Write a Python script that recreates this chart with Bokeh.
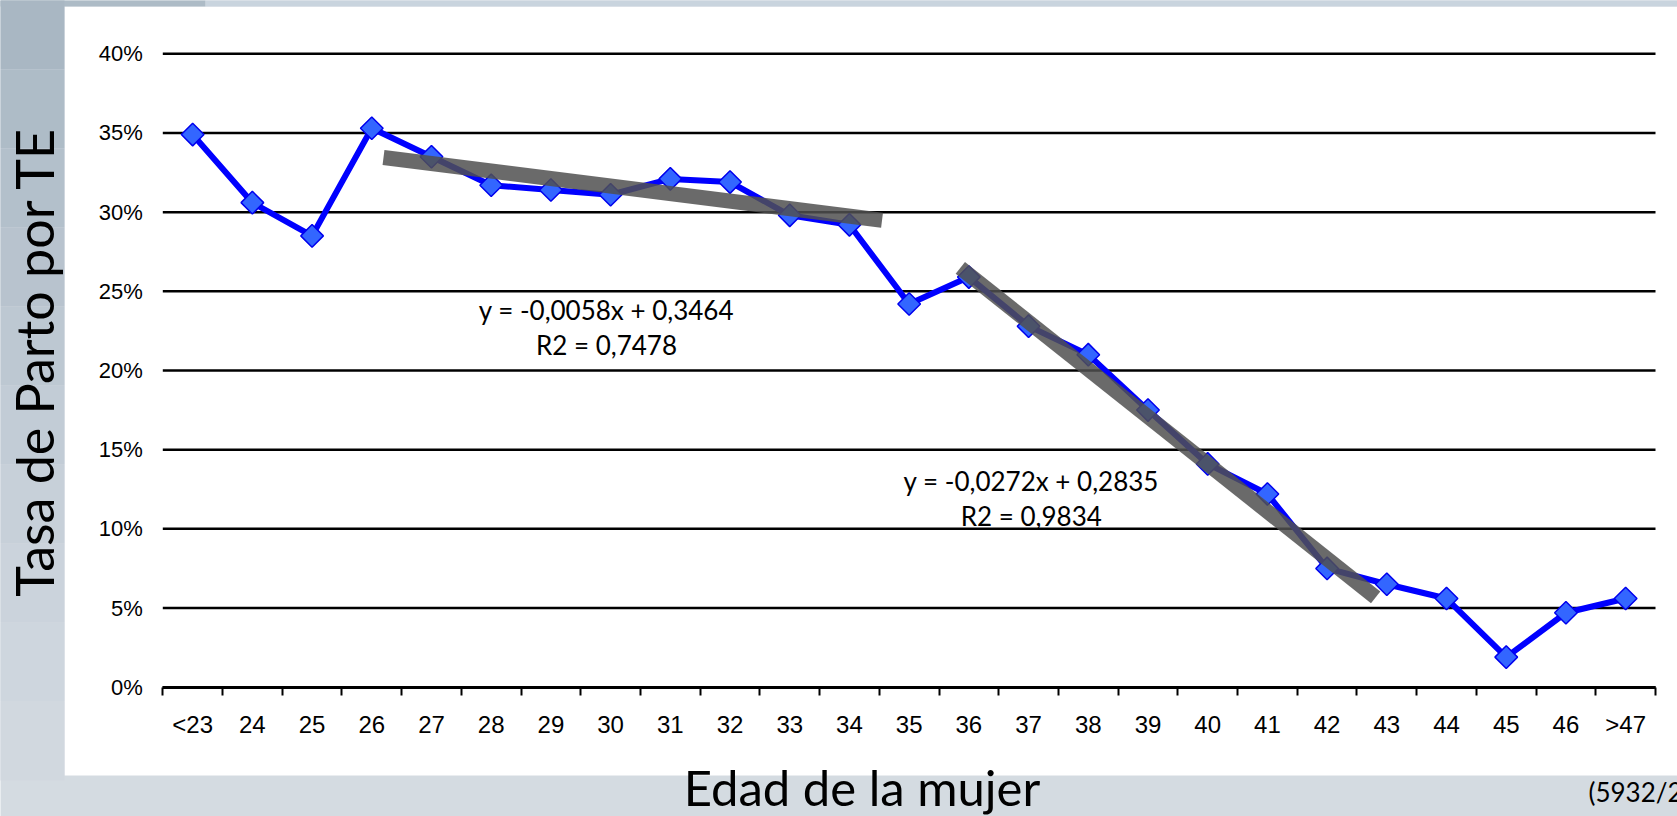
from math import pi
from bokeh.plotting import figure
from bokeh.models import ColumnDataSource, FixedTicker, PrintfTickFormatter, Range1d
from bokeh.embed import file_html
from bokeh.resources import INLINE
from bokeh.core.properties import value

# ---------------- data ----------------
categories = ["<23", "24", "25", "26", "27", "28", "29", "30", "31", "32", "33", "34", "35",
              "36", "37", "38", "39", "40", "41", "42", "43", "44", "45", "46", ">47"]
tasa_parto = [34.9, 30.6, 28.5, 35.3, 33.5, 31.7, 31.4, 31.1, 32.1, 31.9, 29.8, 29.2, 24.2,
              25.9, 22.8, 21.0, 17.5, 14.1, 12.2, 7.5, 6.5, 5.6, 1.9, 4.7, 5.6]
y_ticks = [0, 5, 10, 15, 20, 25, 30, 35, 40]

# trend lines (start / end, in category-index units and %)
trend1_x = [3.196, 11.546]
trend1_y = [33.45, 29.49]
trend2_x = [12.857, 19.813]
trend2_y = [26.48, 5.68]

eq_text = ["y = -0,0058x + 0,3464", "R2 = 0,7478", "y = -0,0272x + 0,2835", "R2 = 0,9834"]
eq_x = [6.93, 6.93, 14.046, 14.046]
eq_y = [23.79, 21.58, 13.05, 10.84]

x_title = "Edad de la mujer"
y_title = "Tasa de Parto por TE"
source_note = "(5932/2"

# ---------------- layout (pixels of the page) ----------------
W, H = 1677, 816
PX_L, PX_R = 162.3, 1655.0      # data area, left / right
PX_T, PX_B = 53.3, 686.7        # data area, 40% line / 0% line
XS = (PX_R - PX_L) / len(categories)
YS = (PX_B - PX_T) / 40.0


def fx(px):
    return -0.5 + (px - PX_L) / XS


def fy(py):
    return (PX_B - py) / YS


idx = list(range(len(categories)))

p = figure(width=W, height=H, output_backend="svg", toolbar_location=None,
           x_range=Range1d(fx(0), fx(W)), y_range=Range1d(fy(H), fy(0)),
           min_border=0, border_fill_color="#d4dbe1", background_fill_color="#d4dbe1",
           outline_line_color=None)

# slide background: white panel, blue-grey strips
p.quad(left=[fx(64)], right=[fx(W + 10)], top=[fy(6)], bottom=[fy(775)],
       fill_color="white", line_color=None, level="image")
p.quad(left=[fx(-10), fx(205)], right=[fx(205), fx(W + 10)], top=[fy(-10), fy(-10)],
       bottom=[fy(6), fy(6)], fill_color=["#adbbc6", "#c9d4de"], line_color=None, level="image")
band_colors = ["#a9b7c3", "#aebcc7", "#b3c0cb", "#b8c3ce", "#bdc8d2", "#c2ccd6",
               "#c7d0d9", "#cbd3dc", "#ced6de", "#d1d8df"]
n_b = len(band_colors)
band_h = 790.0 / n_b
p.quad(left=[fx(-10)] * n_b, right=[fx(64)] * n_b,
       top=[fy(-10 + k * band_h) for k in range(n_b)],
       bottom=[fy(-10 + (k + 1) * band_h) for k in range(n_b)],
       fill_color=band_colors, line_color=None, level="image")

# horizontal gridlines
p.xgrid.visible = False
p.ygrid.visible = False
p.segment(x0=[-0.5] * len(y_ticks), x1=[24.5] * len(y_ticks), y0=y_ticks, y1=y_ticks,
          line_color="black", line_width=2.5, level="underlay")

# x axis (inside the frame, at 0%)
p.xaxis.fixed_location = 0
p.xaxis.bounds = (-0.5, 24.5)
p.xaxis.ticker = FixedTicker(ticks=idx, minor_ticks=[i - 0.5 for i in range(len(categories) + 1)])
p.xaxis.major_label_overrides = {i: c for i, c in enumerate(categories)}
p.xaxis.major_tick_out = 0
p.xaxis.major_tick_in = 0
p.xaxis.major_tick_line_color = None
p.xaxis.minor_tick_out = 8
p.xaxis.minor_tick_in = 0
p.xaxis.minor_tick_line_color = "black"
p.xaxis.minor_tick_line_width = 2
p.xaxis.axis_line_color = "black"
p.xaxis.axis_line_width = 3
p.xaxis.major_label_text_font = "Liberation Sans"
p.xaxis.major_label_text_font_size = "24px"
p.xaxis.major_label_text_color = "black"
p.xaxis.major_label_standoff = 16

# y axis (labels only)
p.yaxis.fixed_location = -0.5
p.yaxis.ticker = FixedTicker(ticks=y_ticks)
p.yaxis.formatter = PrintfTickFormatter(format="%d%%")
p.yaxis.axis_line_color = None
p.yaxis.major_tick_line_color = None
p.yaxis.minor_tick_line_color = None
p.yaxis.major_tick_out = 0
p.yaxis.major_tick_in = 0
p.yaxis.major_label_standoff = 20
p.yaxis.major_label_text_font = "Liberation Sans"
p.yaxis.major_label_text_font_size = "22px"
p.yaxis.major_label_text_color = "black"

# data
src = ColumnDataSource(dict(x=idx, y=tasa_parto, cat=categories))
p.line("x", "y", source=src, line_color="#0000ff", line_width=6)
p.scatter("x", "y", source=src, marker="square", size=16, angle=pi / 4,
          fill_color="#3366ff", line_color="#0000ee", line_width=1.5)

# trend lines
p.line(trend1_x, trend1_y, line_color="#505050", line_width=15, line_alpha=0.85)
p.line(trend2_x, trend2_y, line_color="#505050", line_width=15, line_alpha=0.85)

# equations
eq_src = ColumnDataSource(dict(x=eq_x, y=eq_y, t=eq_text))
p.text("x", "y", text="t", source=eq_src, text_font=value("Lato"), text_font_size="26px",
       text_align="center", text_baseline="middle", text_color="black")

# axis titles and source note
p.text(x=[fx(33)], y=[fy(361)], text=[y_title], angle=pi / 2, text_font=value("Lato"),
       text_font_size="52px", text_align="center", text_baseline="middle",
       text_color="black")
p.text(x=[fx(861.5)], y=[fy(786)], text=[x_title], text_font=value("Lato"),
       text_font_size="49px", text_align="center", text_baseline="middle",
       text_color="black")
p.text(x=[fx(1588)], y=[fy(791)], text=[source_note], text_font=value("Lato"),
       text_font_size="26px", text_align="left", text_baseline="middle",
       text_color="black")

open("out.html", "w").write(file_html(p, INLINE))
